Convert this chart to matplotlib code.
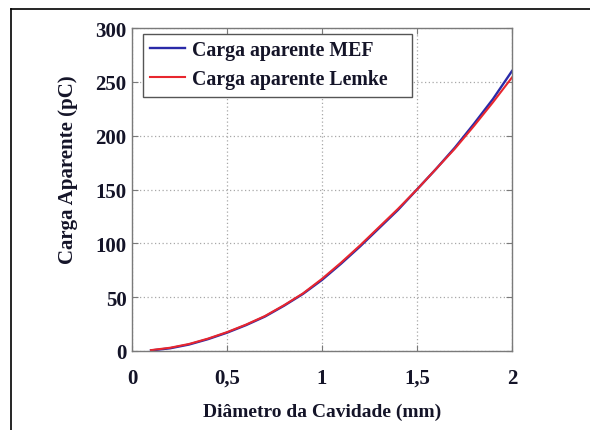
import matplotlib
matplotlib.use("Agg")
import matplotlib.pyplot as plt
from matplotlib.lines import Line2D
from matplotlib.patches import Rectangle

# Cavity diameter (mm) and apparent charge (pC)
diametro = [0.1, 0.2, 0.3, 0.4, 0.5, 0.6, 0.7, 0.8, 0.9, 1.0,
            1.1, 1.2, 1.3, 1.4, 1.5, 1.6, 1.7, 1.8, 1.9, 2.0]
carga_mef = [0.5, 2.5, 6, 11, 17, 24, 32, 42, 53, 66,
             81, 97, 114, 131, 150, 169, 189, 211, 234, 260]
carga_lemke = [0.8, 3, 6.5, 11.5, 17.5, 24.5, 32.5, 42.5, 53.5, 67,
               82, 98, 115, 132, 150, 169, 188, 209, 231, 254]

x_ticks = [0, 0.5, 1, 1.5, 2]
x_labels = ["0", "0,5", "1", "1,5", "2"]
y_ticks = [0, 50, 100, 150, 200, 250, 300]

serif = ["Liberation Serif", "DejaVu Serif"]
txt_color = "#141428"

fig = plt.figure(figsize=(5.9, 4.31), dpi=100)
ax = fig.add_axes([0.2237, 0.1833, 0.644, 0.7494])

ax.plot(diametro, carga_mef, color="#2a2aa8", lw=1.7, label="Carga aparente MEF")
ax.plot(diametro, carga_lemke, color="#e8262e", lw=1.5, label="Carga aparente Lemke")

ax.set_xlim(0, 2)
ax.set_ylim(0, 300)
ax.set_xticks(x_ticks)
ax.set_xticklabels(x_labels)
ax.set_yticks(y_ticks)

ax.grid(True, color="#a8a8a8", linestyle=(0, (1, 2)), linewidth=0.9)
for s in ax.spines.values():
    s.set_color("#7a7a7a")
    s.set_linewidth(1.0)

ax.tick_params(axis="both", direction="in", length=4, width=0.8, color="#7a7a7a",
               top=True, right=True)
ax.tick_params(axis="x", pad=12)
ax.tick_params(axis="y", pad=4)
for lab in ax.get_xticklabels() + ax.get_yticklabels():
    lab.set_fontfamily(serif)
    lab.set_fontweight("bold")
    lab.set_fontsize(15)
    lab.set_color(txt_color)

ax.set_xlabel("Diâmetro da Cavidade (mm)", fontfamily=serif, fontweight="bold",
              fontsize=14, color=txt_color, labelpad=11)
ax.set_ylabel("Carga Aparente (pC)", fontfamily=serif, fontweight="bold",
              fontsize=15, color=txt_color)
ax.yaxis.set_label_coords(-0.142, 0.565)

# legend box, drawn separately so the right margin can be wider
ax.add_patch(Rectangle((0.029, 0.786), 0.708, 0.195, transform=ax.transAxes,
                       facecolor="white", edgecolor="#555555", lw=1.0,
                       zorder=4, clip_on=False))
leg = ax.legend(loc="upper left", bbox_to_anchor=(0.047, 0.962), frameon=False,
                prop={"family": serif, "weight": "bold", "size": 14.3},
                handlelength=1.75, handletextpad=0.35, borderpad=0,
                labelspacing=0.42, borderaxespad=0)
leg.set_zorder(5)
for t in leg.get_texts():
    t.set_color(txt_color)

# figure frame: left and top edges
fig.add_artist(Line2D([11 / 590, 11 / 590], [0, 1 - 10 / 431],
                      transform=fig.transFigure, color="black", lw=1.2))
fig.add_artist(Line2D([11 / 590, 1], [1 - 10 / 431, 1 - 10 / 431],
                      transform=fig.transFigure, color="black", lw=1.2))

fig.savefig("out.png", dpi=100)
